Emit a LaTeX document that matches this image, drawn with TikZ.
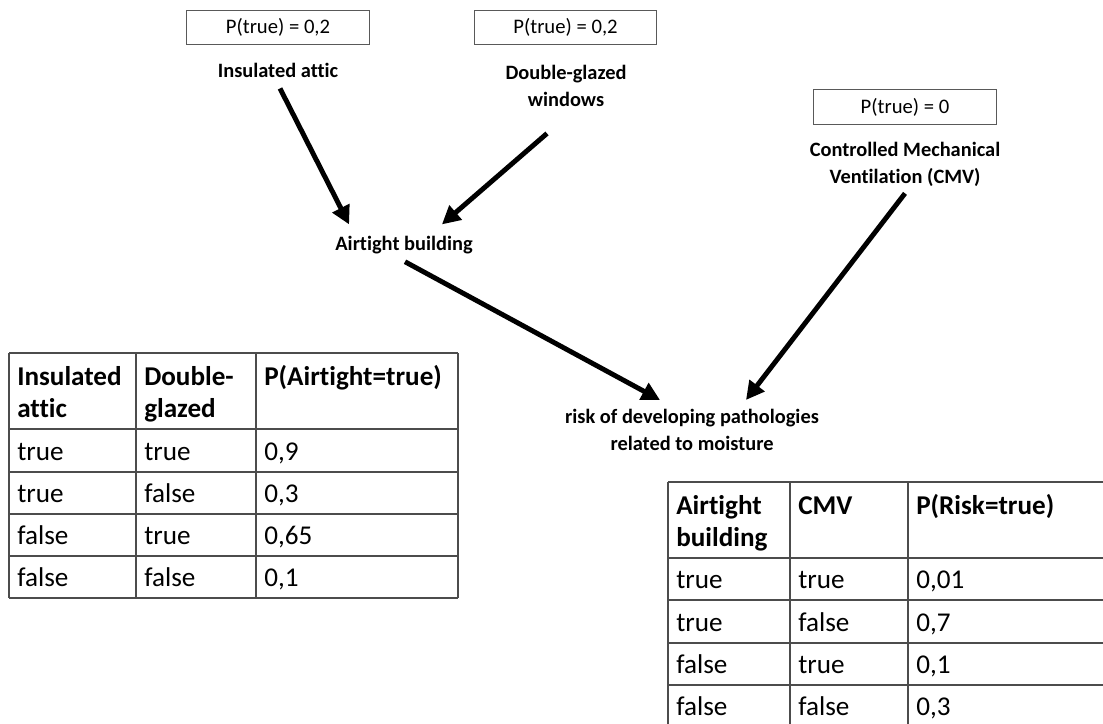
\documentclass[tikz,border=0pt]{standalone}
\usepackage{fontspec}
\setmainfont{Carlito}[Ligatures=NoCommon]
\usetikzlibrary{arrows.meta,calc}

\begin{document}
\begin{tikzpicture}[x=0.025cm, y=-0.025cm,
  arr/.style={-{Triangle[length=13pt,width=13pt]}, line width=3.5pt},
  prob/.style={draw=black!65, line width=0.7pt, minimum width=4.55cm, minimum height=0.87cm,
    inner sep=0pt, font=\fontsize{14.7}{18}\selectfont},
  lab/.style={font=\fontsize{14.5}{18.8}\selectfont\bfseries, align=center, inner sep=0pt, anchor=base},
  cell/.style={font=\fontsize{19.3}{22.7}\selectfont, anchor=base west, inner sep=0pt},
  head/.style={cell, font=\fontsize{19.3}{22.7}\selectfont\bfseries, align=left},
  tab/.style={draw=black!70, line width=0.9pt}
]
\useasboundingbox (0,0) rectangle (1103,723);

% Prior probabilities
\node[prob] (pattic) at (278,27.5) {P(true) = 0,2};
\node[prob] (pwin) at (565.5,27.5) {P(true) = 0,2};
\node[prob] (pcmv) at (905,107) {P(true) = 0};

% Network nodes (base = last line)
\node[lab] (attic) at (278,77) {Insulated attic};
\node[lab] (win) at (566,106) {Double-glazed\\windows};
\node[lab] (cmv) at (905,183) {Controlled Mechanical\\Ventilation (CMV)};
\node[lab] (air) at (404,250) {Airtight building};
\node[lab] (risk) at (692,450) {risk of developing pathologies\\related to moisture};

% Dependencies
\draw[arr] ($(attic.south)+(2,11)$) -- ($(air.north west)+(14,-11)$);
\draw[arr] ($(win.south)+(-19,27)$) -- ($(air.north east)+(-31,-11)$);
\draw[arr] ($(air.south)+(1,8)$) -- ($(risk.north)+(-32,-9)$);
\draw[arr] ($(cmv.south)+(0,7)$) -- ($(risk.north)+(54,-9)$);

% Table: P(Airtight | attic, glazing)
\foreach \y in {353,429,472,514,556,598} \draw[tab] (9,\y) -- (458,\y);
\foreach \x in {9,136,256,458} \draw[tab] (\x,353) -- (\x,598);
\node[head] (ha1) at (17,417) {Insulated\\attic};
\node[head] (ha2) at (144,417) {Double-\\glazed};
\node[head] (ha3) at (264,385) {P(Airtight=true)};
\foreach \y/\a/\b/\p [count=\i] in {460/true/true/{0,9}, 502/true/false/{0,3},
    544/false/true/{0,65}, 586/false/false/{0,1}} {
  \node[cell] (a\i-1) at (17,\y) {\a};
  \node[cell] (a\i-2) at (144,\y) {\b};
  \node[cell] (a\i-3) at (264,\y) {\p};
}

% Table: P(Risk | airtight, CMV)
\foreach \y in {482,558,600,643,685,727} \draw[tab] (668,\y) -- (1110,\y);
\foreach \x in {668,790,908,1110} \draw[tab] (\x,482) -- (\x,727);
\node[head] (hr1) at (676,546) {Airtight\\building};
\node[head] (hr2) at (798,514) {CMV};
\node[head] (hr3) at (916,514) {P(Risk=true)};
\foreach \y/\a/\b/\p [count=\i] in {588/true/true/{0,01}, 631/true/false/{0,7},
    673/false/true/{0,1}, 715/false/false/{0,3}} {
  \node[cell] (r\i-1) at (676,\y) {\a};
  \node[cell] (r\i-2) at (798,\y) {\b};
  \node[cell] (r\i-3) at (916,\y) {\p};
}

\end{tikzpicture}
\end{document}
